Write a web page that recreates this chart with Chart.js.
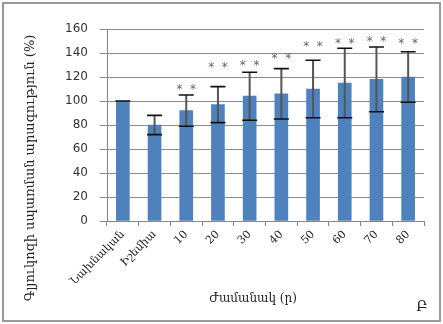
<!DOCTYPE html>
<html>
<head>
<meta charset="utf-8">
<script src="https://cdn.jsdelivr.net/npm/chart.js@4/dist/chart.umd.min.js"></script>
<style>
html,body{margin:0;padding:0;background:#fff;}
#wrap{width:443px;height:324px;position:relative;}
</style>
</head>
<body>
<div id="wrap"><canvas id="c" width="443" height="324"></canvas></div>
<script>
const categories = ["Նախնական", "Իշեմիա", "10", "20", "30", "40", "50", "60", "70", "80"];
const means = [100, 80, 92, 97, 104, 106, 110, 115, 118, 120];
const errors = [0, 8, 13, 15, 20, 21, 24, 29, 27, 21];
const starLevels = [null, null, 112, 130, 132, 138, 148, 150, 152, 150];
const starText = "*  *";
const yTicks = [0, 20, 40, 60, 80, 100, 120, 140, 160];
const yTitle = "Գլյուկոզի սպառման արագություն (%)";
const xTitle = "Ժամանակ (ր)";
const panelLetter = "Բ";

const extras = {
  id: 'extras',
  afterDatasetsDraw(chart) {
    const ctx = chart.ctx;
    const x = chart.scales.x, y = chart.scales.y;
    ctx.save();
    means.forEach((m, i) => {
      const cx = x.getPixelForValue(i);
      const yt = y.getPixelForValue(m + errors[i]);
      const yb = y.getPixelForValue(m - errors[i]);
      ctx.strokeStyle = '#555';
      ctx.lineWidth = 2;
      ctx.beginPath(); ctx.moveTo(cx, yt); ctx.lineTo(cx, yb); ctx.stroke();
      ctx.strokeStyle = '#111';
      ctx.lineWidth = 1.6;
      ctx.beginPath();
      ctx.moveTo(cx - 7.5, yt); ctx.lineTo(cx + 7.5, yt);
      ctx.moveTo(cx - 7.5, yb); ctx.lineTo(cx + 7.5, yb);
      ctx.stroke();
    });
    ctx.fillStyle = '#666';
    ctx.font = '12px "DejaVu Sans"';
    ctx.textAlign = 'center';
    ctx.textBaseline = 'middle';
    starLevels.forEach((s, i) => {
      if (s === null) return;
      ctx.fillText(starText, x.getPixelForValue(i), y.getPixelForValue(s) + 3);
    });
    ctx.fillStyle = '#222';
    ctx.font = '13px "DejaVu Serif", "DejaVu Sans"';
    ctx.save();
    ctx.translate(31, 168);
    ctx.rotate(-Math.PI / 2);
    ctx.fillText(yTitle, 0, 0);
    ctx.restore();
    ctx.font = '12px "DejaVu Serif", "DejaVu Sans"';
    ctx.fillText(xTitle, 253, 299);
    ctx.font = '14px "DejaVu Serif", "DejaVu Sans"';
    ctx.fillText(panelLetter, 422, 307);
    ctx.strokeStyle = '#9a9a9a';
    ctx.lineWidth = 2;
    ctx.strokeRect(3, 3, 437, 318);
    ctx.restore();
  }
};

new Chart(document.getElementById('c'), {
  type: 'bar',
  data: {
    labels: categories,
    datasets: [{
      data: means,
      backgroundColor: '#4F81BD',
      borderWidth: 0,
      barThickness: 13
    }]
  },
  options: {
    responsive: false,
    animation: false,
    events: [],
    layout: { padding: { left: 0, right: 19, top: 29, bottom: 0 } },
    plugins: { legend: { display: false }, tooltip: { enabled: false } },
    scales: {
      x: {
        afterFit(s) { s.height = 103; },
        grid: { display: true, drawOnChartArea: false, drawTicks: true, tickLength: 5, offset: true, color: '#868686' },
        border: { display: true, color: '#868686' },
        ticks: {
          maxRotation: 45, minRotation: 45, autoSkip: false, padding: 2,
          color: '#222',
          font: { family: '"DejaVu Serif", "DejaVu Sans"', size: 11 }
        }
      },
      y: {
        min: 0, max: 160,
        afterFit(s) { s.width = 107; },
        afterBuildTicks(s) { s.ticks = yTicks.map(v => ({ value: v })); },
        grid: { color: '#8c8c8c', tickLength: 7 },
        border: { display: true, color: '#868686' },
        ticks: {
          padding: 12, color: '#333',
          font: { family: '"DejaVu Sans"', size: 12 }
        }
      }
    }
  },
  plugins: [extras]
});
</script>
</body>
</html>
